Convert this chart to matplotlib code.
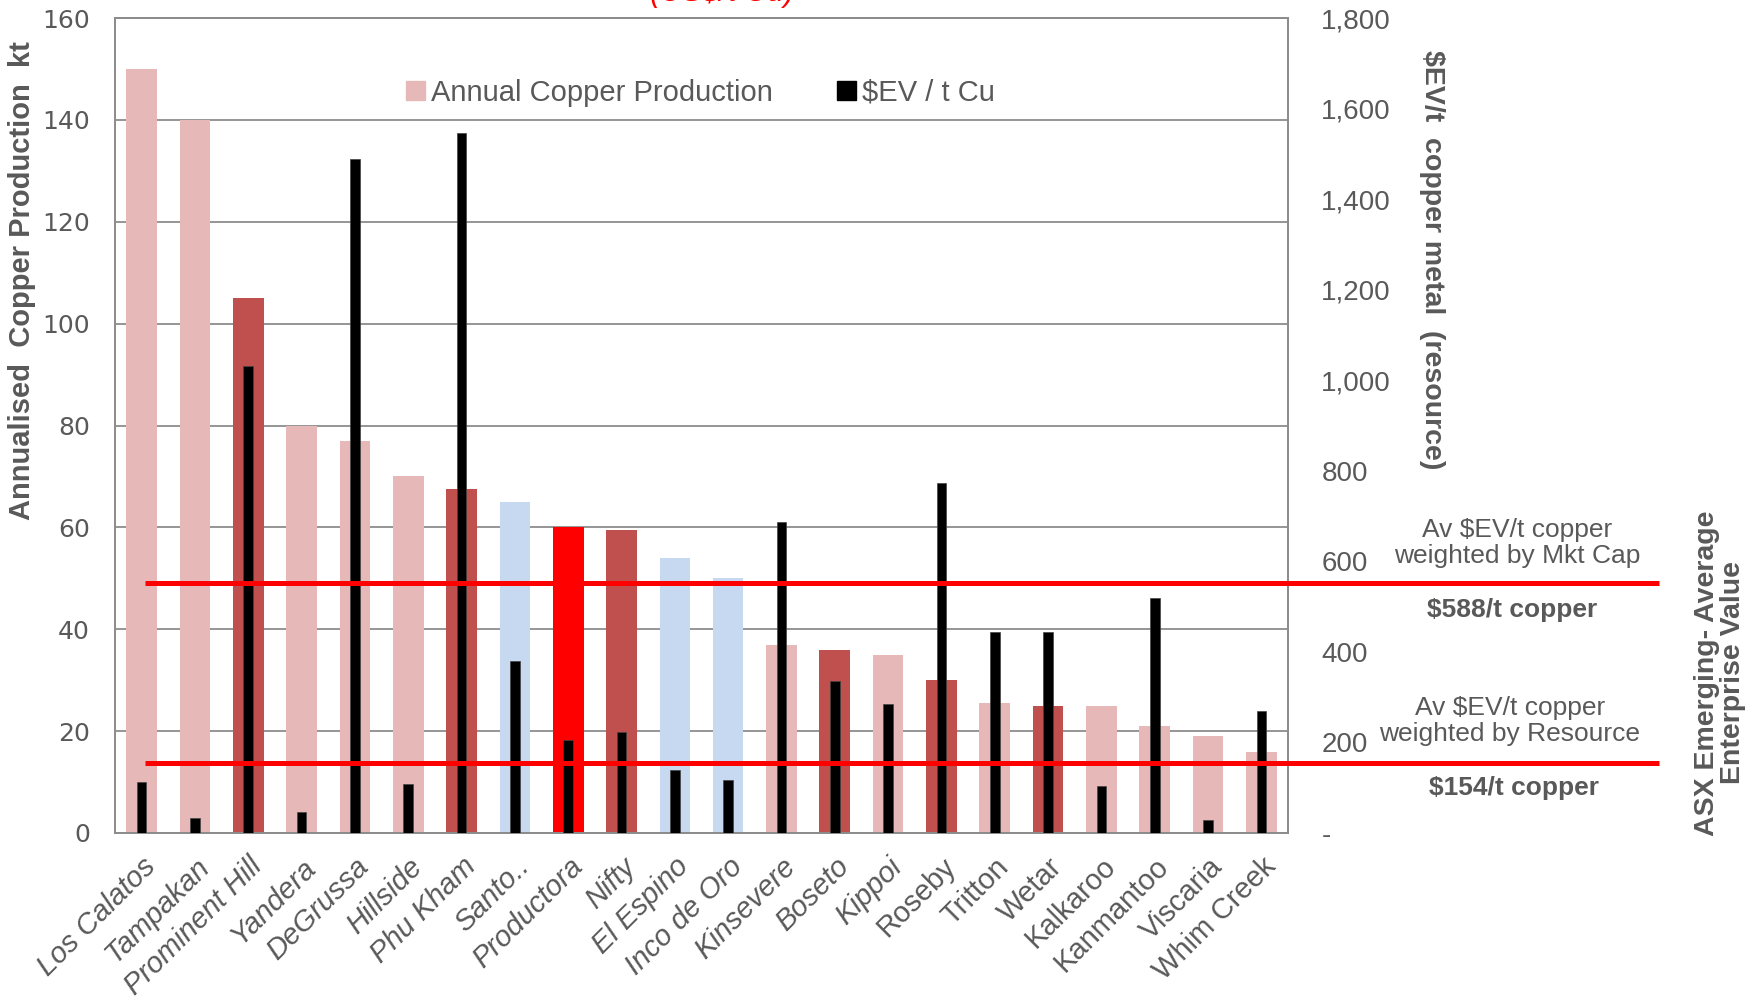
import numpy as np
import matplotlib
matplotlib.use("Agg")
import matplotlib.pyplot as plt
from matplotlib.patches import Patch

plt.rcParams["font.family"] = ["Liberation Sans", "DejaVu Sans"]

# mines, annual copper production (kt) and $EV / t Cu
mines = ["Los Calatos", "Tampakan", "Prominent Hill", "Yandera", "DeGrussa",
         "Hillside", "Phu Kham", "Santo..", "Productora", "Nifty", "El Espino",
         "Inco de Oro", "Kinsevere", "Boseto", "Kippoi", "Roseby", "Tritton",
         "Wetar", "Kalkaroo", "Kanmantoo", "Viscaria", "Whim Creek"]
production = [150, 140, 105, 80, 77, 70, 67.6, 65, 60, 59.5, 54, 50,
              37, 36, 35, 30, 25.5, 25, 25, 21, 19, 16]
ev_per_t = [113, 34, 1032, 47, 1489, 108, 1546, 379, 206, 223, 140, 117,
            686, 336, 284, 773, 444, 444, 103, 518, 28, 269]
groups = ["light", "light", "dark", "light", "light", "light", "dark", "blue",
          "red", "dark", "blue", "blue", "light", "dark", "light", "dark",
          "light", "dark", "light", "light", "light", "light"]

avg_mktcap = 552
avg_resource = 154

colours = {"light": "#E6B9B8", "dark": "#C0504D", "blue": "#C6D9F0", "red": "#FF0000"}
grey = "#595959"
frame = "#8C8C8C"

W, H = 1758, 1001
fig = plt.figure(figsize=(W / 100, H / 100), dpi=100)
ax = fig.add_axes([115 / W, 1 - 833 / H, 1173 / W, 815 / H])
ax2 = ax.twinx()

x = np.arange(len(mines))
ax.bar(x, production, width=0.575, color=[colours[g] for g in groups], zorder=2)
ax2.bar(x, ev_per_t, width=0.18, color="black", edgecolor="#444444", linewidth=0.5, zorder=3)

ax.set_xlim(-0.5, len(mines) - 0.5)
ax.set_ylim(0, 160)
ax.set_yticks(np.arange(0, 161, 20))
ax2.set_ylim(0, 1800)
ax2.set_yticks(np.arange(0, 1801, 200))
ax2.set_yticklabels(["-"] + [f"{v:,}" for v in range(200, 1801, 200)])

ax.set_axisbelow(True)
ax.yaxis.grid(True, color=frame, linewidth=1.3)
for a in (ax, ax2):
    for s in a.spines.values():
        s.set_color(frame)
        s.set_linewidth(1.3)
    a.tick_params(length=0)

for lab in ax.get_yticklabels():
    lab.set_fontfamily("DejaVu Sans")
ax.tick_params(axis="y", labelsize=18, labelcolor=grey, pad=18)
ax2.tick_params(axis="y", labelsize=20, labelcolor=grey, pad=24)

ax.set_xticks(x)
ax.set_xticklabels(mines, rotation=45, ha="right", rotation_mode="anchor",
                   fontsize=21, color=grey)
for i, lab in enumerate(ax.get_xticklabels()):
    if i < 15:
        lab.set_fontstyle("italic")
ax.tick_params(axis="x", pad=14)

ax.set_ylabel("Annualised  Copper Production  kt", fontsize=21, fontweight="bold",
              color=grey, va="center")
ax.yaxis.set_label_coords(-0.079, 0.678)
ax2.set_ylabel("$EV/t  copper metal  (resource)", fontsize=20.5, fontweight="bold",
               color=grey, rotation=-90, va="center")
ax2.yaxis.set_label_coords(1.1228, 0.703)

# average lines running out past the plot
for v in (avg_mktcap, avg_resource):
    ax2.plot([0.06, 28.46], [v, v], color="#FF0000", linewidth=3.6,
             clip_on=False, zorder=5, solid_capstyle="butt")

handles = [Patch(color=colours["light"]), Patch(color="black")]
ax.legend(handles, ["Annual Copper Production", "$EV / t Cu"], loc="center",
          bbox_to_anchor=(0.499, 0.908), ncol=2, frameon=False, fontsize=21,
          labelcolor=grey, handlelength=0.65, handleheight=0.65, handletextpad=0.2,
          columnspacing=2.2)

def ftext(px, py, s, **kw):
    fig.text(px / W, 1 - py / H, s, ha="center", va="center", color=grey, **kw)

ftext(1517, 543, "Av $EV/t copper\nweighted by Mkt Cap", fontsize=19, linespacing=1.1)
ftext(1512, 610, "$588/t copper", fontsize=19, fontweight="bold")
ftext(1510, 721, "Av $EV/t copper\nweighted by Resource", fontsize=19, linespacing=1.1)
ftext(1514, 788, "$154/t copper", fontsize=19, fontweight="bold")
ftext(1720, 673, "ASX Emerging- Average\nEnterprise Value", fontsize=20.5,
      fontweight="bold", rotation=90, linespacing=1.0)

# red heading, mostly cut off at the top edge
fig.text(722 / W, 1 - 1 / H, "(US$/t Cu)", ha="center", va="baseline",
         color="#FF0000", fontsize=22, style="italic")

fig.savefig("out.png", dpi=100)
